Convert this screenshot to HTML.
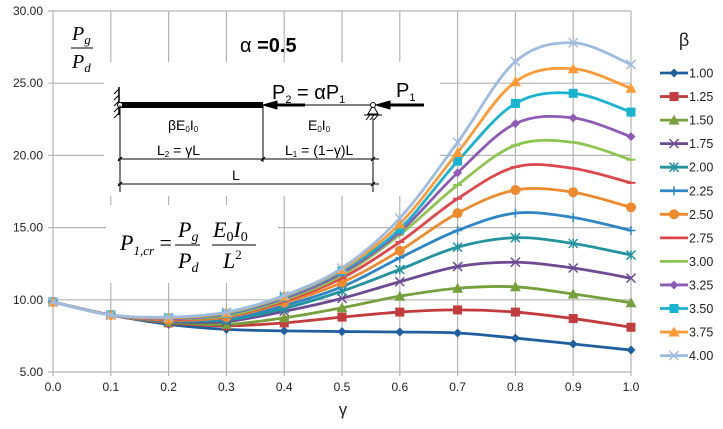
<!DOCTYPE html>
<html><head><meta charset="utf-8"><style>
body{margin:0;background:#fff;width:723px;height:424px;overflow:hidden}
svg{font-family:"Liberation Sans",sans-serif}
.it{font-family:"Liberation Serif",serif;font-style:italic}
</style></head><body>
<svg id="chart" width="723" height="424" viewBox="0 0 723 424" xmlns="http://www.w3.org/2000/svg">
<g id="grid"></g>
<g id="annot">
<rect x="104" y="62" width="336" height="134" fill="#fff"/>
<rect x="106" y="205" width="172" height="78" fill="#fff"/>
<text x="240" y="52" font-size="20">α <tspan font-weight="bold">=0.5</tspan></text>
<g>
<text x="72" y="40" class="it" font-size="20">P<tspan font-size="13" dy="4">g</tspan></text>
<line x1="71" y1="48" x2="93" y2="48" stroke="#000" stroke-width="1"/>
<text x="72" y="68" class="it" font-size="20">P<tspan font-size="13" dy="4">d</tspan></text>
</g>
<g stroke="#000" fill="none">
<line x1="119" y1="87" x2="119" y2="115" stroke-width="1.5"/>
<path d="M119 89 l-5 5 M119 95 l-5 5 M119 101 l-5 5 M119 107 l-5 5 M119 113 l-5 5" stroke-width="1"/>
<line x1="120" y1="105" x2="263" y2="105" stroke-width="6"/>
<line x1="263" y1="105" x2="373" y2="105" stroke-width="1"/>
<line x1="275" y1="105" x2="305" y2="105" stroke-width="3"/>
<path d="M263 105 l14 -4 v8z" fill="#000"/>
<line x1="388" y1="105" x2="424" y2="105" stroke-width="3"/>
<path d="M376 105 l14 -4 v8z" fill="#000"/>
<path d="M373 105 l-5 9 h10z" stroke-width="1" fill="#fff"/>
<line x1="364" y1="115" x2="382" y2="115" stroke-width="1"/>
<path d="M366 120 l4 -5 M370 120 l4 -5 M374 120 l4 -5" stroke-width="1"/>
<circle cx="120" cy="105" r="2.5" fill="#fff" stroke-width="1"/>
<circle cx="373" cy="105" r="2.5" fill="#fff" stroke-width="1"/>
<line x1="120" y1="105" x2="120" y2="192" stroke-width="1"/>
<line x1="263" y1="105" x2="263" y2="162" stroke-width="1"/>
<line x1="373" y1="118" x2="373" y2="192" stroke-width="1"/>
<line x1="118" y1="159" x2="379" y2="159" stroke-width="1"/>
<line x1="118" y1="184" x2="379" y2="184" stroke-width="1"/>
<path d="M118 161 l4 -4 M261 161 l4 -4 M371 161 l4 -4 M118 186 l4 -4 M371 186 l4 -4" stroke-width="1.2"/>
</g>
<text x="272" y="99" font-size="20">P<tspan font-size="11" dy="4">2</tspan><tspan dy="-4"> = αP</tspan><tspan font-size="11" dy="4">1</tspan></text>
<text x="396" y="97" font-size="20">P<tspan font-size="11" dy="4">1</tspan></text>
<text x="168" y="130" font-size="14">βE<tspan font-size="8" dy="2">0</tspan><tspan dy="-2">I</tspan><tspan font-size="8" dy="2">0</tspan></text>
<text x="308" y="130" font-size="14">E<tspan font-size="8" dy="2">0</tspan><tspan dy="-2">I</tspan><tspan font-size="8" dy="2">0</tspan></text>
<text x="157" y="155" font-size="14">L<tspan font-size="8" dy="2">2</tspan><tspan dy="-2"> = γL</tspan></text>
<text x="285" y="155" font-size="14">L<tspan font-size="8" dy="2">1</tspan><tspan dy="-2"> = (1−γ)L</tspan></text>
<text x="232" y="180" font-size="14">L</text>
<g>
<text x="120" y="250" class="it" font-size="22">P<tspan font-size="13" dy="5">1,cr</tspan><tspan dy="-5" font-style="normal"> =</tspan></text>
<text x="178" y="237" class="it" font-size="22">P<tspan font-size="14" dy="4">g</tspan></text>
<line x1="175" y1="245" x2="200" y2="245" stroke="#000"/>
<text x="178" y="268" class="it" font-size="22">P<tspan font-size="14" dy="4">d</tspan></text>
<text x="213" y="237" class="it" font-size="22">E<tspan font-size="14" dy="4" font-style="normal">0</tspan><tspan dy="-4">I</tspan><tspan font-size="14" dy="4" font-style="normal">0</tspan></text>
<line x1="212" y1="245" x2="256" y2="245" stroke="#000"/>
<text x="223" y="268" class="it" font-size="22">L<tspan font-size="13" dy="-9" font-style="normal">2</tspan></text>
</g>
</g>
<g id="series"></g>
<g id="axes"></g>
<g id="legend"></g>
</svg>
<script>
const gammaVals=[0,0.1,0.2,0.3,0.4,0.5,0.6,0.7,0.8,0.9,1.0];
const xTickLabels=["0.0","0.1","0.2","0.3","0.4","0.5","0.6","0.7","0.8","0.9","1.0"];
const yTickVals=[5,10,15,20,25,30];
const yTickLabels=["5.00","10.00","15.00","20.00","25.00","30.00"];
const betaLabels=["1.00","1.25","1.50","1.75","2.00","2.25","2.50","2.75","3.00","3.25","3.50","3.75","4.00"];
const b100=[9.85,8.95,8.3,7.95,7.85,7.8,7.77,7.7,7.35,6.94,6.52];
const b125=[9.85,8.95,8.4,8.2,8.4,8.8,9.15,9.3,9.15,8.7,8.1];
const b150=[9.85,8.95,8.45,8.3,8.75,9.45,10.25,10.8,10.9,10.4,9.8];
const b175=[9.85,8.95,8.5,8.5,9.2,10.1,11.25,12.3,12.6,12.2,11.5];
const b200=[9.85,8.95,8.55,8.6,9.4,10.6,12.1,13.65,14.3,13.9,13.1];
const b225=[9.85,8.95,8.6,8.7,9.6,10.9,12.9,14.8,16.0,15.7,14.8];
const b250=[9.85,8.95,8.6,8.8,9.8,11.2,13.4,16.0,17.6,17.45,16.4];
const b275=[9.85,8.95,8.65,8.85,9.9,11.5,14.0,17.0,19.2,19.1,18.1];
const b300=[9.85,8.95,8.7,8.9,10.0,11.7,14.5,17.95,20.7,20.9,19.7];
const b325=[9.85,8.95,8.7,9.0,10.1,11.85,14.7,18.8,22.2,22.6,21.3];
const b350=[9.85,8.95,8.75,9.05,10.2,12.0,14.9,19.6,23.6,24.3,23.0];
const b375=[9.85,8.95,8.75,9.1,10.25,12.1,15.25,20.2,25.1,26.0,24.65];
const b400=[9.85,8.95,8.8,9.15,10.3,12.2,15.65,20.9,26.5,27.8,26.3];
const seriesData=[b100,b125,b150,b175,b200,b225,b250,b275,b300,b325,b350,b375,b400];
const colors=["#1f5f9f","#c23b3d","#76a03c","#6c4a94","#23939f","#2e86c5","#ee8a2e","#e0474c","#8ec550","#8d5bb6","#17b3d0","#fd9a35","#9ebbe0"];
const markers=["diamond","square","triangle","x","star","plus","circle","dash","dash","diamond","square","triangle","x"];

const NS="http://www.w3.org/2000/svg";
const L=53,R=631,T=11,B=372;
const xs=v=>L+(v-0)/(1-0)*(R-L);
const ys=v=>B-(v-5)/(30-5)*(B-T);
function mk(tag,attrs,parent){const e=document.createElementNS(NS,tag);for(const k in attrs)e.setAttribute(k,attrs[k]);parent.appendChild(e);return e;}

const grid=document.getElementById('grid');
gammaVals.forEach((g,i)=>{const l=mk('line',{x1:xs(g),x2:xs(g),y1:T,y2:B+4,stroke:'#b4b4b4','stroke-width':1.2},grid);

});
yTickVals.forEach(v=>{const l=mk('line',{x1:L-5,x2:R,y1:ys(v),y2:ys(v),stroke:'#b4b4b4','stroke-width':1.2},grid);

});

const axes=document.getElementById('axes');
gammaVals.forEach((g,i)=>{const t=mk('text',{x:xs(g),y:391,'font-size':12,'text-anchor':'middle',fill:'#222'},axes);t.textContent=xTickLabels[i];

});
yTickVals.forEach((v,i)=>{const t=mk('text',{x:43,y:ys(v)+4,'font-size':12,'text-anchor':'end',fill:'#222'},axes);t.textContent=yTickLabels[i];

});
const xt=mk('text',{x:343,y:415,'font-size':17,'text-anchor':'middle',fill:'#222'},axes);xt.textContent='γ';



function smooth(pts){let d=`M${pts[0][0]},${pts[0][1]}`;for(let i=0;i<pts.length-1;i++){const p0=pts[i-1]||pts[i],p1=pts[i],p2=pts[i+1],p3=pts[i+2]||p2;const t=6;
d+=` C${p1[0]+(p2[0]-p0[0])/t},${p1[1]+(p2[1]-p0[1])/t} ${p2[0]-(p3[0]-p1[0])/t},${p2[1]-(p3[1]-p1[1])/t} ${p2[0]},${p2[1]}`;}return d;}
function marker(type,x,y,c,parent){let e;const s=4.5;
if(type==='diamond')e=mk('path',{d:`M${x} ${y-s} L${x+s} ${y} L${x} ${y+s} L${x-s} ${y}Z`,fill:c},parent);
else if(type==='square')e=mk('rect',{x:x-s,y:y-s,width:2*s,height:2*s,fill:c},parent);
else if(type==='triangle')e=mk('path',{d:`M${x} ${y-s-1} L${x+s+1} ${y+s} L${x-s-1} ${y+s}Z`,fill:c},parent);
else if(type==='circle')e=mk('circle',{cx:x,cy:y,r:s+0.5,fill:c},parent);
else if(type==='x')e=mk('path',{d:`M${x-s} ${y-s}L${x+s} ${y+s}M${x-s} ${y+s}L${x+s} ${y-s}`,stroke:c,'stroke-width':1.5},parent);
else if(type==='star')e=mk('path',{d:`M${x-s} ${y-s}L${x+s} ${y+s}M${x-s} ${y+s}L${x+s} ${y-s}M${x} ${y-s}L${x} ${y+s}`,stroke:c,'stroke-width':1.5},parent);
else if(type==='plus')e=mk('path',{d:`M${x-s} ${y}L${x+s} ${y}M${x} ${y-s}L${x} ${y+s}`,stroke:c,'stroke-width':1.5},parent);
else e=mk('path',{d:`M${x-s} ${y}L${x+s} ${y}`,stroke:c,'stroke-width':2},parent);
return e;}

const sg=document.getElementById('series');
seriesData.forEach((arr,si)=>{const g=mk('g',{},sg);


const pts=arr.map((v,i)=>[xs(gammaVals[i]),ys(v)]);
const p=mk('path',{d:smooth(pts),fill:'none',stroke:colors[si],'stroke-width':2.8},g);


pts.forEach(pt=>{const m=marker(markers[si],pt[0],pt[1],colors[si],g);

});});

const lg=document.getElementById('legend');
const bt=mk('text',{x:684,y:46,'font-size':18,'text-anchor':'middle',fill:'#222'},lg);bt.textContent='β';


betaLabels.forEach((lab,i)=>{const y=73+i*23.55;const g=mk('g',{},lg);


mk('line',{x1:660,x2:688,y1:y,y2:y,stroke:colors[i],'stroke-width':2.8},g);
marker(markers[i],674,y,colors[i],g);
const t=mk('text',{x:689,y:y+4.5,'font-size':12.5,fill:'#222'},g);t.textContent=lab;});
</script>
</body></html>
